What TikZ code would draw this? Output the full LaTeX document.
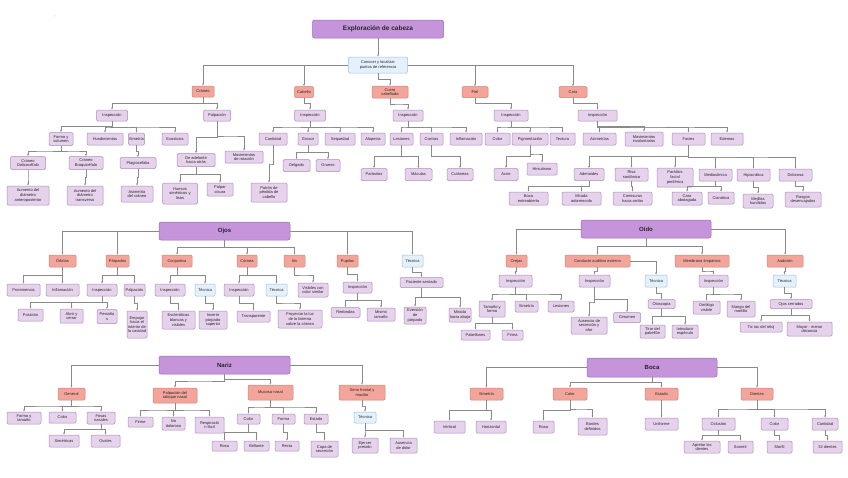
\documentclass[tikz,border=0pt]{standalone}
\usepackage{fontspec}
\setmainfont{Liberation Sans}
\usetikzlibrary{arrows.meta,calc}
\definecolor{hdF}{HTML}{C594DB}\definecolor{hdD}{HTML}{9A6AB2}
\definecolor{saF}{HTML}{F3A59B}\definecolor{saD}{HTML}{C98478}
\definecolor{lpF}{HTML}{E6D2EC}\definecolor{lpD}{HTML}{A990B2}
\definecolor{lbF}{HTML}{E4F1FC}\definecolor{lbD}{HTML}{A3BED6}
\definecolor{lnC}{HTML}{8A8A8A}
\newcommand\bx[7]{\node[#6,minimum width=#4pt,minimum height=#5pt] (#1) at (#2,#3) {#7};}
\newcommand\lk[2]{\draw[conn] (#1.south) to[elb] (#2.north);}
\newcommand\lkW[2]{\draw[conn] (#1.west) -| (#2.north);}
\newcommand\lkE[2]{\draw[conn] (#1.east) -| (#2.north);}
\begin{document}
\begin{tikzpicture}[x=1pt,y=-1pt,font=\fontsize{4}{4.6}\selectfont,
  box/.style={rectangle,rounded corners=1.2pt,line width=0.5pt,align=center,inner sep=0.6pt,text=black!85},
  ttl/.style={box,fill=hdF,draw=hdD,font=\fontsize{6.5}{7}\selectfont\bfseries,rounded corners=2pt},
  hd/.style={box,fill=hdF,draw=hdD,font=\fontsize{6}{7}\selectfont\bfseries,rounded corners=2pt},
  sal/.style={box,fill=saF,draw=saD},
  lp/.style={box,fill=lpF,draw=lpD},
  lb/.style={box,fill=lbF,draw=lbD},
  conn/.style={draw=lnC,line width=0.55pt,-{Latex[length=2.2pt,width=2pt]}},
  elb/.style={to path={|- ($(\tikztostart)!0.5!(\tikztotarget)$) -| (\tikztotarget)}}]
\fill[white] (0,0) rectangle (848,477);
\useasboundingbox (0,0) rectangle (848,477);
\node[text=black!60] (dash) at (55,17) {-};
% ---------- top ----------
\bx{t}{378}{29}{131}{18}{ttl}{Exploración de cabeza}
\bx{c0}{378}{65}{59}{16}{lb}{Conocer y localizar\\puntos de referencia}
\bx{cr}{203}{91.5}{22}{11}{sal}{Cráneo}
\bx{cb}{304}{92}{19}{11}{sal}{Cabello}
\bx{cu}{390}{92}{36}{12}{sal}{Cuero\\cabelludo}
\bx{pi}{475}{92}{26}{11}{sal}{Piel}
\bx{ca}{573}{92}{28}{11}{sal}{Cara}
% Craneo
\bx{crI}{112}{115.5}{31}{11}{lp}{Inspección}
\bx{crP}{217}{115.5}{27}{11}{lp}{Palpación}
\bx{crFV}{61}{139}{24}{13}{lp}{Forma y\\volumen}
\bx{crH}{105}{139}{36}{12}{lp}{Hundimientos}
\bx{crS}{136.5}{139}{15}{12}{lp}{Simetría}
\bx{crE}{175}{139}{26}{12}{lp}{Exostosis}
\bx{crDo}{28}{163}{35}{13}{lp}{Cráneo\\Dolicocéfalo}
\bx{crBr}{86}{163}{34}{13}{lp}{Cráneo\\Braquicéfalo}
\bx{crPl}{138}{163}{36}{11}{lp}{Plagiocefalia}
\bx{crDA}{196}{160}{38}{13}{lp}{De adelante\\hacia atrás}
\bx{crMR}{244}{157}{38}{12}{lp}{Movimientos\\de rotación}
\bx{crAA}{28}{195.5}{42}{19}{lp}{Aumento del\\diámetro\\anteroposterior}
\bx{crAT}{85}{195.5}{36}{19}{lp}{Aumento del\\diámetro\\transverso}
\bx{crAs}{137}{194}{32}{16}{lp}{Asimetría\\del cráneo}
\bx{crHu}{180}{193.5}{35}{21}{lp}{Huesos\\simétricos y\\lisos}
\bx{crPc}{220}{189.5}{26}{13}{lp}{Palpar\\cisura}
% Cabello
\bx{cbI}{310}{115.5}{31}{11}{lp}{Inspección}
\bx{cbC}{273}{139}{28}{12}{lp}{Cantidad}
\bx{cbG}{308}{139}{20}{12}{lp}{Grosor}
\bx{cbS}{340}{139}{30}{12}{lp}{Sequedad}
\bx{cbA}{373}{139}{24}{12}{lp}{Alopecia}
\bx{cbD}{296.5}{165.5}{27}{12}{lp}{Delgado}
\bx{cbGr}{328}{165.5}{24}{12}{lp}{Grueso}
\bx{cbP}{269}{192.5}{36}{19}{lp}{Patrón de\\pérdida de\\cabello}
% Cuero cabelludo
\bx{cuI}{408}{115.5}{30}{11}{lp}{Inspección}
\bx{cuL}{401.5}{139}{23}{12}{lp}{Lesiones}
\bx{cuC}{431.5}{139}{23}{12}{lp}{Costras}
\bx{cuIn}{466}{139}{32}{12}{lp}{Inflamación}
\bx{cuPa}{374}{174.5}{26}{12}{lp}{Parásitos}
\bx{cuM}{418.5}{174.5}{27}{12}{lp}{Máculas}
\bx{cuCu}{460}{174.5}{26}{12}{lp}{Cutáneas}
% Piel
\bx{piI}{511}{115.5}{34}{11}{lp}{Inspección}
\bx{piC}{497.5}{139}{25}{12}{lp}{Color}
\bx{piP}{530}{139}{36}{12}{lp}{Pigmentación}
\bx{piT}{562.5}{139}{25}{12}{lp}{Textura}
\bx{piA}{506}{174.5}{24}{12}{lp}{Acne}
\bx{piH}{542}{169}{30}{12}{lp}{Hirsutismo}
% Cara
\bx{caI}{597.5}{115.5}{39}{11}{lp}{Inspección}
\bx{caA}{599.5}{139}{33}{12}{lp}{Asimetrías}
\bx{caM}{644}{139}{38}{14}{lp}{Movimientos\\involuntarios}
\bx{caF}{688.5}{139}{33}{12}{lp}{Facies}
\bx{caE}{727}{139}{32}{12}{lp}{Edemas}
\bx{caAd}{589}{174.5}{30}{12}{lp}{Adenoides}
\bx{caR}{631.5}{174.5}{33}{13}{lp}{Risa\\sardónica}
\bx{caPa}{675}{177.5}{36}{19}{lp}{Parálisis\\facial\\periférica}
\bx{caMe}{715.5}{175}{33}{12}{lp}{Mediastínica}
\bx{caHi}{753.5}{175}{33}{12}{lp}{Hipocrática}
\bx{caDo}{795.5}{175}{33}{12}{lp}{Dolorosa}
\bx{caBE}{528.5}{198.5}{39}{13}{lp}{Boca\\entreabierta}
\bx{caMA}{581.5}{198.5}{39}{13}{lp}{Mirada\\adormecida}
\bx{caCo}{632.5}{198.5}{39}{13}{lp}{Comisuras\\hacia arriba}
\bx{caCA}{687}{198.5}{30}{13}{lp}{Cara\\abotagada}
\bx{caCi}{721}{198}{26}{12}{lp}{Cianótica}
\bx{caMH}{758}{201}{30}{14}{lp}{Mejillas\\hundidas}
\bx{caRD}{803}{199.5}{36}{15}{lp}{Rasgos\\desencajados}
% ---------- Ojos ----------
\bx{oj}{224.5}{231}{131}{18}{hd}{Ojos}
\bx{ojO}{62.5}{261}{27}{12}{sal}{Órbitas}
\bx{ojP}{117.5}{261}{23}{12}{sal}{Párpados}
\bx{ojC}{177}{261}{30}{12}{sal}{Conjuntiva}
\bx{ojCo}{247}{261}{20}{12}{sal}{Córnea}
\bx{ojI}{294.5}{261}{21}{12}{sal}{Iris}
\bx{ojPu}{347.5}{261}{21}{12}{sal}{Pupilas}
\bx{ojT}{412.5}{261}{21}{12}{lb}{Técnica}
\bx{ojPr}{23.5}{290}{33}{12}{lp}{Prominencia}
\bx{ojIn}{62.5}{290}{33}{12}{lp}{Inflamación}
\bx{ojPI}{102}{290}{30}{12}{lp}{Inspección}
\bx{ojPP}{134.5}{290}{21}{12}{lp}{Palpación}
\bx{ojCI}{170}{290}{30}{12}{lp}{Inspección}
\bx{ojCT}{205}{290}{20}{12}{lb}{Técnica}
\bx{ojCoI}{239}{290}{30}{12}{lp}{Inspección}
\bx{ojCoT}{276.5}{290}{21}{12}{lb}{Técnica}
\bx{ojIV}{313}{290}{30}{14}{lp}{Visibles con\\color similar}
\bx{ojPuI}{357.5}{287.5}{29}{11}{lp}{Inspección}
\bx{ojPS}{421.5}{282.5}{43}{10}{lp}{Paciente sentado}
\bx{ojPo}{30.5}{315}{25}{12}{lp}{Posición}
\bx{ojAC}{71.5}{316}{23}{14}{lp}{Abrir y\\cerrar}
\bx{ojPe}{107}{316.5}{20}{14}{lp}{Pestaña\\s}
\bx{ojEm}{137}{324.5}{20}{27}{lp}{Empujar\\hacia el\\interior de\\la cavidad}
\bx{ojEs}{178.5}{320}{33}{18}{lp}{Escleróticas\\blancas y\\visibles}
\bx{ojIP}{213}{320}{28}{18}{lp}{Invertir\\párpado\\superior}
\bx{ojTr}{253.5}{316.5}{33}{11}{lp}{Transparente}
\bx{ojPL}{300}{319}{44}{18}{lp}{Proyectar la luz\\de la linterna\\sobre la córnea}
\bx{ojRe}{345.5}{312.5}{29}{10}{lp}{Redondas}
\bx{ojMT}{381}{314.5}{28}{13}{lp}{Mismo\\tamaño}
\bx{ojEv}{415}{315.5}{22}{17}{lp}{Eversión\\de\\párpado}
\bx{ojMH}{460}{315}{22}{14}{lp}{Mirada\\hacia abajo}
% ---------- Oido ----------
\bx{oi}{646}{229}{130}{18}{hd}{Oído}
\bx{oiO}{516.5}{261}{21}{12}{sal}{Orejas}
\bx{oiC}{597.5}{261}{65}{12}{sal}{Conducto auditivo externo}
\bx{oiM}{702}{261}{54}{12}{sal}{Membrana timpánica}
\bx{oiA}{785}{261}{36}{12}{sal}{Audición}
\bx{oiOI}{515.5}{281}{33}{12}{lp}{Inspección}
\bx{oiTF}{492}{309}{26}{16}{lp}{Tamaño y\\forma}
\bx{oiS}{526.5}{306.5}{23}{11}{lp}{Simetría}
\bx{oiL}{561}{306.5}{26}{11}{lp}{Lesiones}
\bx{oiPa}{475.5}{335}{29}{10}{lp}{Pabellones}
\bx{oiFi}{512.5}{335}{21}{10}{lp}{Firma}
\bx{oiCI}{594.5}{281}{31}{12}{lp}{Inspección}
\bx{oiAu}{589}{325.5}{36}{17}{lp}{Ausencia de\\secreción y\\olor}
\bx{oiCe}{627}{317.5}{27}{10}{lp}{Cerumen}
\bx{oiT}{656}{281}{22}{12}{lb}{Técnica}
\bx{oiOt}{661.5}{304}{27}{9}{lp}{Otoscopia}
\bx{oiTi}{652.5}{331.5}{25}{13}{lp}{Tirar del\\pabellón}
\bx{oiIn}{685}{331.5}{26}{13}{lp}{Introducir\\espéculo}
\bx{oiMI}{713.5}{281}{29}{12}{lp}{Inspección}
\bx{oiOm}{706.5}{307.5}{27}{13}{lp}{Ombligo\\visible}
\bx{oiMa}{741}{309}{28}{16}{lp}{Mango del\\martillo}
\bx{oiAT}{784.5}{281}{23}{12}{lb}{Técnica}
\bx{oiOC}{791}{304}{42}{9}{lp}{Ojos cerrados}
\bx{oiTT}{761}{327}{42}{10}{lp}{Tic tac del reloj}
\bx{oiMM}{809.5}{329}{45}{14}{lp}{Mayor - menor\\distancia}
% ---------- Nariz ----------
\bx{na}{224.5}{365}{131}{18}{hd}{Nariz}
\bx{naG}{71.5}{394}{27}{12}{sal}{General}
\bx{naP}{175}{395.5}{44}{15}{sal}{Palpación del\\tabique nasal}
\bx{naM}{270.5}{392.5}{45}{15}{sal}{Mucosa nasal}
\bx{naS}{362}{392.5}{46}{15}{sal}{Seno frontal y\\maxilar}
\bx{naFT}{24}{418}{34}{12}{lp}{Forma y\\tamaño}
\bx{naC}{62.5}{417.5}{27}{11}{lp}{Color}
\bx{naFN}{101}{418}{28}{12}{lp}{Fosas\\nasales}
\bx{naSi}{64}{441}{30}{12}{lp}{Simétricas}
\bx{naOv}{105.5}{441}{29}{12}{lp}{Ovales}
\bx{naFi}{140.5}{422}{25}{10}{lp}{Firme}
\bx{naNo}{173.5}{423.5}{23}{13}{lp}{No\\doloroso}
\bx{naRe}{209.5}{425}{29}{16}{lp}{Respiració\\n fácil}
\bx{naMC}{248.5}{419}{23}{10}{lp}{Color}
\bx{naMF}{283.5}{419}{23}{10}{lp}{Forma}
\bx{naME}{316}{419}{24}{10}{lp}{Estado}
\bx{naRo}{224.5}{446}{25}{10}{lp}{Rosa}
\bx{naBr}{256.5}{446}{25}{10}{lp}{Brillante}
\bx{naRc}{287}{446}{24}{10}{lp}{Recta}
\bx{naCS}{324.5}{449}{27}{16}{lp}{Capa de\\secreción}
\bx{naT}{365}{417.5}{22}{11}{lb}{Técnica}
\bx{naEP}{365}{445.5}{26}{15}{lp}{Ejercer\\presión}
\bx{naAD}{403.5}{445.5}{27}{15}{lp}{Ausencia\\de dolor}
% ---------- Boca ----------
\bx{bo}{652}{367.5}{130}{19}{hd}{Boca}
\bx{boS}{486.5}{394}{33}{12}{sal}{Simetría}
\bx{boC}{570}{394}{34}{12}{sal}{Color}
\bx{boE}{661.5}{394}{33}{12}{sal}{Estado}
\bx{boD}{757}{394}{32}{12}{sal}{Dientes}
\bx{boV}{449.5}{427}{31}{12}{lp}{Vertical}
\bx{boH}{491}{427}{30}{12}{lp}{Horizontal}
\bx{boR}{543.5}{427}{21}{12}{lp}{Rosa}
\bx{boB}{592.5}{426.5}{29}{17}{lp}{Bordes\\definidos}
\bx{boU}{661.5}{424}{33}{12}{lp}{Uniforme}
\bx{boO}{718.5}{424}{33}{12}{lp}{Oclusión}
\bx{boCo}{774.5}{424}{27}{12}{lp}{Color}
\bx{boCa}{825}{424}{26}{12}{lp}{Cantidad}
\bx{boAp}{702}{447}{36}{12}{lp}{Apretar los\\dientes}
\bx{boSo}{740.5}{447}{25}{12}{lp}{Sonreír}
\bx{boM}{779.5}{447}{25}{12}{lp}{Marfil}
\bx{boDi}{827.5}{447}{29}{12}{lp}{32 dientes}
% ---------- connectors ----------
\draw[conn] (t.south) -- (c0.north);
\lkW{c0}{cr}\lkW{c0}{cb}\lk{c0}{cu}\lkE{c0}{pi}\lkE{c0}{ca}
\lk{cr}{crI}\lk{cr}{crP}
\foreach \c in {crFV,crH,crS,crE}{\lk{crI}{\c}}
\lk{crFV}{crDo}\lk{crFV}{crBr}\lk{crDo}{crAA}\lk{crBr}{crAT}
\lk{crS}{crPl}\lk{crPl}{crAs}
\lk{crP}{crDA}\lk{crP}{crMR}\lk{crDA}{crHu}\lk{crDA}{crPc}
\lk{cb}{cbI}
\foreach \c in {cbC,cbG,cbS,cbA}{\lk{cbI}{\c}}
\lk{cbG}{cbD}\lk{cbG}{cbGr}\lk{cbC}{cbP}
\lk{cu}{cuI}
\foreach \c in {cuL,cuC,cuIn}{\lk{cuI}{\c}}
\lk{cuL}{cuPa}\lk{cuL}{cuM}\lk{cuC}{cuCu}
\lk{pi}{piI}
\foreach \c in {piC,piP,piT}{\lk{piI}{\c}}
\lk{piP}{piA}\lk{piP}{piH}
\lk{ca}{caI}
\foreach \c in {caA,caM,caF,caE}{\lk{caI}{\c}}
\foreach \c in {caAd,caR,caPa,caMe,caHi,caDo}{\lk{caF}{\c}}
\lk{caAd}{caBE}\lk{caAd}{caMA}\lk{caR}{caCo}
\lk{caMe}{caCA}\lk{caMe}{caCi}\lk{caHi}{caMH}\lk{caDo}{caRD}
% Ojos
\lkW{oj}{ojO}\lkW{oj}{ojP}\lk{oj}{ojC}\lk{oj}{ojCo}\lk{oj}{ojI}\lkE{oj}{ojPu}\lkE{oj}{ojT}
\lk{ojO}{ojPr}\lk{ojO}{ojIn}
\lk{ojP}{ojPI}\lk{ojP}{ojPP}
\lk{ojPI}{ojPo}\lk{ojPI}{ojAC}\lk{ojPI}{ojPe}\lk{ojPP}{ojEm}
\lk{ojC}{ojCI}\lk{ojC}{ojCT}\lk{ojCI}{ojEs}\lk{ojCT}{ojIP}
\lk{ojCo}{ojCoI}\lk{ojCo}{ojCoT}\lk{ojCoI}{ojTr}\lk{ojCoT}{ojPL}
\lk{ojI}{ojIV}
\lk{ojPu}{ojPuI}\lk{ojPuI}{ojRe}\lk{ojPuI}{ojMT}
\lk{ojT}{ojPS}\lk{ojPS}{ojEv}\lk{ojPS}{ojMH}
% Oido
\lkW{oi}{oiO}\lk{oi}{oiC}\lk{oi}{oiM}\lkE{oi}{oiA}
\lk{oiO}{oiOI}
\lk{oiOI}{oiTF}\lk{oiOI}{oiS}\lk{oiOI}{oiL}
\lk{oiTF}{oiPa}\lk{oiTF}{oiFi}
\lk{oiC}{oiCI}\lk{oiCI}{oiAu}\lk{oiCI}{oiCe}
\lkE{oiC}{oiT}\lk{oiT}{oiOt}\lk{oiOt}{oiTi}\lk{oiOt}{oiIn}
\lk{oiM}{oiMI}\lk{oiMI}{oiOm}\lk{oiMI}{oiMa}
\lk{oiA}{oiAT}\lk{oiAT}{oiOC}\lk{oiOC}{oiTT}\lk{oiOC}{oiMM}
% Nariz
\lkW{na}{naG}\lk{na}{naP}\lk{na}{naM}\lkE{na}{naS}
\lk{naG}{naFT}\lk{naG}{naC}\lk{naG}{naFN}
\lk{naFN}{naSi}\lk{naFN}{naOv}
\lk{naP}{naFi}\lk{naP}{naNo}\lk{naP}{naRe}
\lk{naM}{naMC}\lk{naM}{naMF}\lk{naM}{naME}
\lk{naMC}{naRo}\lk{naMC}{naBr}\lk{naMF}{naRc}\lk{naME}{naCS}
\lk{naS}{naT}\lk{naT}{naEP}\lk{naT}{naAD}
% Boca
\lkW{bo}{boS}\lk{bo}{boC}\lk{bo}{boE}\lkE{bo}{boD}
\lk{boS}{boV}\lk{boS}{boH}
\lk{boC}{boR}\lk{boC}{boB}
\lk{boE}{boU}
\lk{boD}{boO}\lk{boD}{boCo}\lk{boD}{boCa}
\lk{boO}{boAp}\lk{boO}{boSo}\lk{boCo}{boM}\lk{boCa}{boDi}
\end{tikzpicture}
\end{document}
